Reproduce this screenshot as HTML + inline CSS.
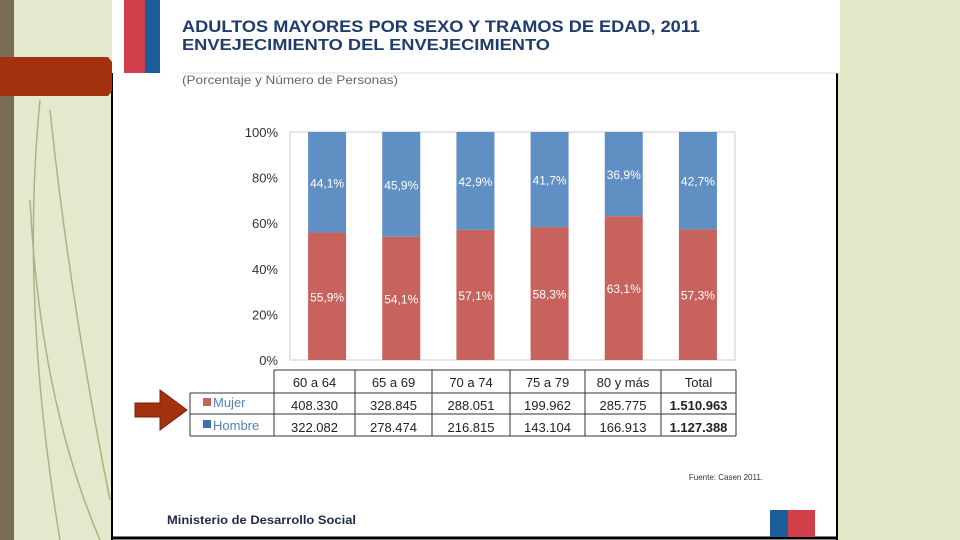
<!DOCTYPE html>
<html><head><meta charset="utf-8"><style>
body{margin:0;width:960px;height:540px;overflow:hidden;background:#e3e9cc;font-family:"Liberation Sans",sans-serif;position:relative}
</style></head><body>
<svg width="960" height="540" style="position:absolute;left:0;top:0">
<rect x="0" y="0" width="14" height="540" fill="#786f55"/>
<path d="M40 100 Q20 300 60 540 M50 110 Q70 300 110 500 M30 200 Q40 400 100 540" stroke="#8a8a5a" stroke-width="1.5" fill="none" opacity="0.6"/>
<rect x="112" y="0" width="725" height="540" fill="#fff"/>
<line x1="112" y1="72" x2="112" y2="540" stroke="#000" stroke-width="2"/>
<line x1="837" y1="72" x2="837" y2="540" stroke="#000" stroke-width="2"/>
<line x1="112" y1="538" x2="837" y2="538" stroke="#000" stroke-width="3"/>
<rect x="840" y="0" width="120" height="540" fill="#e2e9c8"/>
<rect x="112" y="0" width="728" height="73" fill="#fff"/>
<line x1="182" y1="73" x2="840" y2="73" stroke="#ddd"/>
<rect x="124" y="0" width="21" height="73" fill="#d1404a"/>
<rect x="145" y="0" width="15" height="73" fill="#1a5d99"/>
<polygon points="0,57 108,57 112,62 112,91 108,96 0,96" fill="#a3300f"/>
<text x="182" y="32" font-size="17" font-weight="bold" fill="#1f3c6b" textLength="518" lengthAdjust="spacingAndGlyphs">ADULTOS MAYORES POR SEXO Y TRAMOS DE EDAD, 2011</text>
<text x="182" y="50" font-size="15.5" font-weight="bold" fill="#1f3c6b" textLength="368" lengthAdjust="spacingAndGlyphs">ENVEJECIMIENTO DEL ENVEJECIMIENTO</text>
<text x="182" y="84" font-size="12" fill="#666" textLength="216" lengthAdjust="spacingAndGlyphs">(Porcentaje y Número de Personas)</text>
<g id="chart"></g>
<g id="table"></g>
<text x="763" y="480" font-size="8" text-anchor="end" fill="#333">Fuente: Casen 2011.</text>
<text x="167" y="524" font-size="12" font-weight="bold" fill="#1f2a4a" textLength="189" lengthAdjust="spacingAndGlyphs">Ministerio de Desarrollo Social</text>
<rect x="770" y="510" width="18" height="27" fill="#1a5d99"/>
<rect x="788" y="510" width="27" height="27" fill="#d1404a"/>
<polygon points="135,403 160,403 160,390 187,410 160,430 160,417 135,417" fill="#a3300f" stroke="#7a2008"/>
</svg>
<script>
const categories=["60 a 64","65 a 69","70 a 74","75 a 79","80 y más","Total"];
const mujerPct=[55.9,54.1,57.1,58.3,63.1,57.3];
const hombrePct=[44.1,45.9,42.9,41.7,36.9,42.7];
const mujerN=["408.330","328.845","288.051","199.962","285.775","1.510.963"];
const hombreN=["322.082","278.474","216.815","143.104","166.913","1.127.388"];
const yTicks=[0,20,40,60,80,100];
const NS="http://www.w3.org/2000/svg";
const x0=290,x1=735,yB=360,yT=132;
const y=v=>yB-(yB-yT)*v/100;
const band=(x1-x0)/categories.length;
const xc=i=>x0+band*(i+0.5);
function el(t,a,p){const e=document.createElementNS(NS,t);for(const k in a)e.setAttribute(k,a[k]);p.appendChild(e);return e;}
const g=document.getElementById('chart');
const frame=el('rect',{x:x0,y:yT,width:x1-x0,height:yB-yT,fill:'none',stroke:'#ccc'},g);


yTicks.forEach(t=>{const tx=el('text',{x:278,y:y(t)+5,'font-size':13,'text-anchor':'end',fill:'#333'},g);tx.textContent=t+'%';

});
const fmt=v=>v.toFixed(1).replace('.',',')+'%';
categories.forEach((c,i)=>{const w=38,bx=xc(i)-w/2;
const r=el('rect',{x:bx,y:y(mujerPct[i]),width:w,height:yB-y(mujerPct[i]),fill:'#c8625c'},g);


const b=el('rect',{x:bx,y:y(100),width:w,height:y(mujerPct[i])-y(100),fill:'#5f8fc3'},g);


const t1=el('text',{x:xc(i),y:y(mujerPct[i]/2)+5,'font-size':12,'text-anchor':'middle',fill:'#fff'},g);t1.textContent=fmt(mujerPct[i]);


const t2=el('text',{x:xc(i),y:y(mujerPct[i]+hombrePct[i]/2)+5,'font-size':12,'text-anchor':'middle',fill:'#fff'},g);t2.textContent=fmt(hombrePct[i]);

});
const tb=document.getElementById('table');
const cols=[274,355,432,510,585,661,736];
const ln=(a,b,c,d)=>el('line',{x1:a,y1:b,x2:c,y2:d,stroke:'#333','stroke-width':1},tb);
ln(274,370,736,370);ln(190,393,736,393);ln(190,414,736,414);ln(190,436,736,436);
cols.forEach(cx=>ln(cx,370,cx,436));ln(190,393,190,436);
categories.forEach((c,i)=>{const m=(cols[i]+cols[i+1])/2;
const h=el('text',{x:m,y:387,'font-size':13,'text-anchor':'middle',fill:'#222'},tb);h.textContent=c;


const bold=i===5?'bold':'normal';
const a=el('text',{x:m,y:410,'font-size':13,'text-anchor':'middle',fill:'#222','font-weight':bold},tb);a.textContent=mujerN[i];


const d=el('text',{x:m,y:432,'font-size':13,'text-anchor':'middle',fill:'#222','font-weight':bold},tb);d.textContent=hombreN[i];

});
const k1=el('rect',{x:203,y:398,width:8,height:8,fill:'#c8625c'},tb);


const l1=el('text',{x:213,y:407,'font-size':13,fill:'#5a7fb0'},tb);l1.textContent='Mujer';


const k2=el('rect',{x:203,y:420,width:8,height:8,fill:'#3f6fb0'},tb);


const l2=el('text',{x:213,y:430,'font-size':13,fill:'#5a7fb0'},tb);l2.textContent='Hombre';


</script>
</body></html>
